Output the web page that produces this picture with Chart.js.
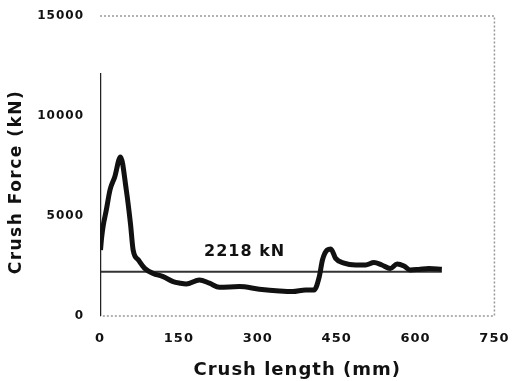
<!DOCTYPE html>
<html>
<head>
<meta charset="utf-8">
<script src="https://cdn.jsdelivr.net/npm/chart.js@4.4.1/dist/chart.umd.min.js"></script>
<style>
  body { margin: 0; background: #fff; }
  canvas { display: block; }
</style>
</head>
<body>
<canvas id="crushChart" width="515" height="381"></canvas>
<script>
// Data
const crushLength = [1, 3, 6, 12, 19, 28, 39, 50, 58, 63, 73, 85, 101, 120, 139, 152, 164, 189, 208, 227, 265, 303, 341, 366, 391, 407, 417, 423, 432, 439, 448, 464, 486, 505, 521, 536, 552, 565, 578, 590, 606, 625, 650];
const crushForce = [3300, 3900, 4500, 5300, 6300, 6950, 7950, 6300, 4600, 3300, 2800, 2380, 2130, 1970, 1720, 1640, 1600, 1800, 1640, 1440, 1470, 1340, 1250, 1220, 1300, 1300, 1970, 2800, 3300, 3350, 2880, 2640, 2550, 2550, 2670, 2550, 2380, 2600, 2500, 2300, 2330, 2380, 2340];

// initial spike at zero length
const spikeLength = [0, 0];
const spikeForce = [0, 12150];

// mean crush force line
const meanForce = 2218;
const meanLength = [0, 650];
const meanLabel = '2218 kN';
const meanLabelAt = 275;

const xTicks = [0, 150, 300, 450, 600, 750];
const yTicks = [0, 5000, 10000, 15000];

const toPoints = (xs, ys) => xs.map((x, i) => ({ x: x, y: ys[i] }));

// Dotted frame + mean label + y title
const framePlugin = {
  id: 'frame',
  beforeDraw(chart) {
    chart.ctx.letterSpacing = '1px';
  },
  beforeDatasetsDraw(chart) {
    const { ctx, chartArea: a } = chart;
    ctx.save();
    ctx.strokeStyle = '#9a9a9a';
    ctx.lineWidth = 1.5;
    ctx.setLineDash([2, 2]);
    ctx.beginPath();
    ctx.moveTo(a.left, a.top);
    ctx.lineTo(a.right, a.top);
    ctx.lineTo(a.right, a.bottom);
    ctx.lineTo(a.left, a.bottom);
    ctx.stroke();
    ctx.restore();
  },
  afterDraw(chart) {
    const { ctx, chartArea: a, scales } = chart;
    ctx.save();
    ctx.fillStyle = '#111';
    ctx.letterSpacing = '1px';
    ctx.font = 'bold 16px "DejaVu Sans"';
    ctx.textAlign = 'center';
    ctx.textBaseline = 'middle';
    ctx.fillText(meanLabel, scales.x.getPixelForValue(meanLabelAt), scales.y.getPixelForValue(meanForce) - 20);

    ctx.font = 'bold 17px "DejaVu Sans"';
    ctx.letterSpacing = '1.5px';
    ctx.translate(17, (a.top + a.bottom) / 2 + 16);
    ctx.rotate(-Math.PI / 2);
    ctx.fillText('Crush Force (kN)', 0, 0);
    ctx.restore();
  }
};

const ctx = document.getElementById('crushChart').getContext('2d');

new Chart(ctx, {
  type: 'line',
  data: {
    datasets: [
      {
        data: toPoints(crushLength, crushForce),
        borderColor: '#111',
        borderWidth: 5,
        pointRadius: 0,
        cubicInterpolationMode: 'monotone',
        fill: false
      },
      {
        data: toPoints(spikeLength, spikeForce),
        borderColor: '#222',
        borderWidth: 2.5,
        pointRadius: 0,
        fill: false
      },
      {
        data: toPoints(meanLength, [meanForce, meanForce]),
        borderColor: '#333',
        borderWidth: 2,
        pointRadius: 0,
        fill: false
      }
    ]
  },
  options: {
    responsive: false,
    animation: false,
    layout: { padding: { top: 16, right: 19, left: 0, bottom: 0 } },
    plugins: {
      legend: { display: false },
      tooltip: { enabled: false }
    },
    scales: {
      x: {
        type: 'linear',
        min: 0,
        max: 750,
        afterBuildTicks: (scale) => { scale.ticks = xTicks.map(v => ({ value: v })); },
        afterFit: (scale) => { scale.height = 65; },
        grid: { display: false },
        border: { display: false },
        ticks: {
          color: '#111',
          padding: 7,
          maxRotation: 0,
          callback: (v) => String(v),
          font: { family: '"DejaVu Sans"', weight: 'bold', size: 13 }
        },
        title: {
          display: true,
          text: 'Crush length (mm)',
          color: '#111',
          padding: { top: 0, bottom: 0 },
          font: { family: '"DejaVu Sans"', weight: 'bold', size: 18 }
        }
      },
      y: {
        min: 0,
        max: 15000,
        afterBuildTicks: (scale) => { scale.ticks = yTicks.map(v => ({ value: v })); },
        afterFit: (scale) => { scale.width = 100; },
        grid: { display: false },
        border: { display: false },
        ticks: {
          color: '#111',
          padding: 8,
          callback: (v) => String(v),
          font: { family: '"DejaVu Sans"', weight: 'bold', size: 12 }
        }
      }
    }
  },
  plugins: [framePlugin]
});
</script>
</body>
</html>
